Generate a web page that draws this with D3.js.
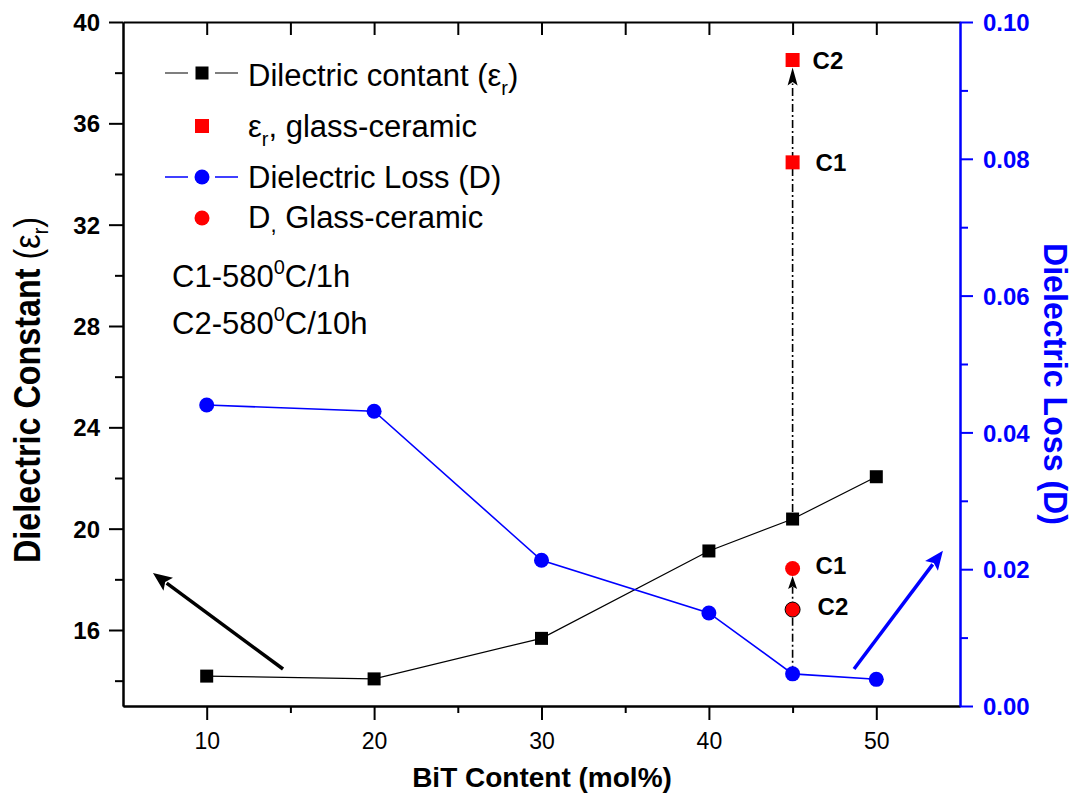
<!DOCTYPE html>
<html><head><meta charset="utf-8">
<script src="https://cdn.jsdelivr.net/npm/d3@7"></script>
<style>
body{margin:0;background:#fff}
svg{display:block}
text{font-family:"Liberation Sans",Arial,Helvetica,sans-serif}
</style>
</head><body>
<svg id="chart" width="1076" height="797"></svg>
<script>
// ---- data ----
const bitContent = [10, 20, 30, 40, 45, 50];
const dielectricConstant = [14.18, 14.07, 15.67, 19.12, 20.38, 22.05];
const dielectricLoss = [0.0440, 0.0431, 0.0213, 0.0136, 0.0047, 0.0039];
const ceramicLabels = ["C1", "C2"];
const ceramicContent = [45, 45];
const ceramicConstant = [34.46, 38.5];
const ceramicLoss = [0.0201, 0.0141];
const xTicks = [10, 20, 30, 40, 50];
const xMinorTicks = [15, 25, 35, 45];
const xTopTicks = [10, 15, 20, 25, 30, 35, 40, 45, 50];
const leftTicks = [16, 20, 24, 28, 32, 36, 40];
const leftMinorTicks = [14, 18, 22, 26, 30, 34, 38];
const rightTicks = [0, 0.02, 0.04, 0.06, 0.08, 0.10];
const rightMinorTicks = [0.01, 0.03, 0.05, 0.07, 0.09];

const BLUE = "#0000ff", RED = "#ff0000";
const svg = d3.select("#chart");
const L = 123, R = 960, T = 22, B = 706;
const x = d3.scaleLinear([5, 55], [L, R]);
const yL = d3.scaleLinear([13, 40], [B, T]);
const yR = d3.scaleLinear([0, 0.1], [B, T]);

function styleAxis(g, color, width) {
  g.selectAll("path.domain").attr("stroke", color).attr("stroke-width", width);
  g.selectAll(".tick line").attr("stroke", color).attr("stroke-width", 2);
}

// bottom axis
const gxB = svg.append("g").attr("transform", `translate(0,${B})`)
  .call(d3.axisBottom(x).tickValues(xTicks).tickSize(14).tickSizeOuter(0).tickFormat(d3.format("d")));
styleAxis(gxB, "#000", 2);
gxB.selectAll("text").attr("y", 43).attr("dy", null).attr("font-size", 23).attr("fill", "#000");
const gxBm = svg.append("g").attr("transform", `translate(0,${B})`)
  .call(d3.axisBottom(x).tickValues(xMinorTicks).tickSize(7).tickSizeOuter(0).tickFormat(""));
styleAxis(gxBm, "#000", 2);

// top axis (inward ticks)
const gxT = svg.append("g").attr("transform", `translate(0,${T})`)
  .call(d3.axisBottom(x).tickValues(xTopTicks).tickSize(13).tickSizeOuter(0).tickFormat(""));
styleAxis(gxT, "#000", 2);

// left axis
const gyL = svg.append("g").attr("transform", `translate(${L},0)`)
  .call(d3.axisLeft(yL).tickValues(leftTicks).tickSize(14).tickSizeOuter(0).tickFormat(d3.format("d")));
styleAxis(gyL, "#000", 2);
gyL.selectAll("text").attr("x", -23).attr("dy", "0.36em").attr("font-size", 24)
  .attr("font-weight", "bold").attr("fill", "#000");
const gyLm = svg.append("g").attr("transform", `translate(${L},0)`)
  .call(d3.axisLeft(yL).tickValues(leftMinorTicks).tickSize(8).tickSizeOuter(0).tickFormat(""));
styleAxis(gyLm, "#000", 2);

// right axis
const gyR = svg.append("g").attr("transform", `translate(${R},0)`)
  .call(d3.axisRight(yR).tickValues(rightTicks).tickSize(13).tickSizeOuter(0).tickFormat(d3.format(".2f")));
styleAxis(gyR, BLUE, 2);
gyR.selectAll("text").attr("x", 23).attr("dy", "0.36em").attr("font-size", 24)
  .attr("font-weight", "bold").attr("fill", BLUE);
const gyRm = svg.append("g").attr("transform", `translate(${R},0)`)
  .call(d3.axisRight(yR).tickValues(rightMinorTicks).tickSize(8).tickSizeOuter(0).tickFormat(""));
styleAxis(gyRm, BLUE, 2);

// axis titles
svg.append("text").attr("x", 542).attr("y", 787).attr("text-anchor", "middle")
  .attr("font-size", 28).attr("font-weight", "bold").text("BiT Content (mol%)");

const lt = svg.append("text").attr("transform", "translate(40,390) rotate(-90)")
  .attr("text-anchor", "middle").attr("font-size", 36).attr("font-weight", "bold")
  .attr("textLength", 346).attr("lengthAdjust", "spacingAndGlyphs");
lt.append("tspan").text("Dielectric Constant ");
lt.append("tspan").attr("font-weight", "normal").text("(ε");
lt.append("tspan").attr("font-weight", "normal").attr("font-size", 22).attr("dy", 8).text("r");
lt.append("tspan").attr("font-weight", "normal").attr("dy", -8).text(")");

svg.append("text").attr("transform", "translate(1044,384) rotate(90)")
  .attr("text-anchor", "middle").attr("font-size", 34).attr("font-weight", "bold")
  .attr("fill", BLUE).attr("textLength", 282).attr("lengthAdjust", "spacingAndGlyphs")
  .text("Dielectric Loss (D)");

// arrows helper
function arrow(g, x1, y1, x2, y2, o) {
  const dx = x2 - x1, dy = y2 - y1, len = Math.hypot(dx, dy);
  const ux = dx / len, uy = dy / len;
  const bx = x2 - ux * o.head, by = y2 - uy * o.head;
  g.append("line").attr("x1", x1).attr("y1", y1).attr("x2", bx + ux * 2).attr("y2", by + uy * 2)
    .attr("stroke", o.color).attr("stroke-width", o.width)
    .attr("stroke-dasharray", o.dash || null);
  const px = -uy, py = ux, hw = o.headW / 2;
  g.append("path")
    .attr("d", `M${x2},${y2}L${bx + px * hw},${by + py * hw}L${x2 - ux * o.head * 0.8},${y2 - uy * o.head * 0.8}L${bx - px * hw},${by - py * hw}Z`)
    .attr("fill", o.color);
}

// series lines
const lineL = d3.line().x((d, i) => x(bitContent[i])).y(d => yL(d));
const lineR = d3.line().x((d, i) => x(bitContent[i])).y(d => yR(d));
svg.append("path").attr("d", lineL(dielectricConstant)).attr("fill", "none")
  .attr("stroke", "#000").attr("stroke-width", 1.2);
svg.append("path").attr("d", lineR(dielectricLoss)).attr("fill", "none")
  .attr("stroke", BLUE).attr("stroke-width", 1.6);

// dash-dot arrows at 45 mol%
const ann = svg.append("g");
const i45 = bitContent.indexOf(45);
arrow(ann, x(45), yL(dielectricConstant[i45]) - 7, x(45), yL(ceramicConstant[1]) + 7.5,
  {color: "#000", width: 1.6, head: 18, headW: 10, dash: "8,3,2,3"});
arrow(ann, x(45), yR(dielectricLoss[i45]), x(45), yR(ceramicLoss[0]) + 7.5,
  {color: "#000", width: 1.6, head: 13, headW: 9, dash: "8,3,2,3"});

// trend arrows
arrow(ann, x(14.56), yL(14.46), x(6.79), yL(18.25), {color: "#000", width: 3.5, head: 19, headW: 16});
arrow(ann, x(48.67), yR(0.0054), x(53.98), yR(0.0227), {color: BLUE, width: 3.5, head: 19, headW: 16});

// markers
svg.append("g").selectAll("rect").data(dielectricConstant).join("rect")
  .attr("x", (d, i) => x(bitContent[i]) - 6.5).attr("y", d => yL(d) - 6.5)
  .attr("width", 13).attr("height", 13).attr("fill", "#000");
svg.append("g").selectAll("circle").data(dielectricLoss).join("circle")
  .attr("cx", (d, i) => x(bitContent[i])).attr("cy", d => yR(d)).attr("r", 7.5).attr("fill", BLUE);
svg.append("g").selectAll("rect").data(ceramicConstant).join("rect")
  .attr("x", (d, i) => x(ceramicContent[i]) - 7).attr("y", d => yL(d) - 7)
  .attr("width", 14).attr("height", 14).attr("fill", RED);
svg.append("g").selectAll("circle").data(ceramicLoss).join("circle")
  .attr("cx", (d, i) => x(ceramicContent[i])).attr("cy", d => yR(d)).attr("r", 7.5).attr("fill", RED)
  .attr("stroke", (d, i) => i === 1 ? "#000" : "none").attr("stroke-width", 1);

// C labels
const lab = svg.append("g").attr("font-size", 24).attr("font-weight", "bold");
ceramicConstant.forEach((d, i) => {
  lab.append("text").attr("x", x(ceramicContent[i]) + (i === 0 ? 23 : 20)).attr("y", yL(d) + 8.5).text(ceramicLabels[i]);
});
ceramicLoss.forEach((d, i) => {
  lab.append("text").attr("x", x(ceramicContent[i]) + (i === 0 ? 23 : 25)).attr("y", yR(d) + 5).text(ceramicLabels[i]);
});

// legend
const lg = svg.append("g").attr("font-size", 31);
const symX = 202, txtX = 248;
// row 1
lg.append("line").attr("x1", 165).attr("x2", 188).attr("y1", 73).attr("y2", 73).attr("stroke", "#555").attr("stroke-width", 1.5);
lg.append("line").attr("x1", 215).attr("x2", 238).attr("y1", 73).attr("y2", 73).attr("stroke", "#555").attr("stroke-width", 1.5);
lg.append("rect").attr("x", symX - 6.5).attr("y", 73 - 6.5).attr("width", 13).attr("height", 13).attr("fill", "#000");
const t1 = lg.append("text").attr("x", txtX).attr("y", 86);
t1.append("tspan").text("Dilectric contant (ε");
t1.append("tspan").attr("font-size", 20).attr("dy", 9).text("r");
t1.append("tspan").attr("dy", -9).text(")");
// row 2
lg.append("rect").attr("x", symX - 7).attr("y", 126 - 7).attr("width", 14).attr("height", 14).attr("fill", RED);
const t2 = lg.append("text").attr("x", txtX).attr("y", 137);
t2.append("tspan").text("ε");
t2.append("tspan").attr("font-size", 20).attr("dy", 9).text("r");
t2.append("tspan").attr("dy", -9).text(", glass-ceramic");
// row 3
lg.append("line").attr("x1", 165).attr("x2", 188).attr("y1", 177).attr("y2", 177).attr("stroke", BLUE).attr("stroke-width", 1.5);
lg.append("line").attr("x1", 215).attr("x2", 238).attr("y1", 177).attr("y2", 177).attr("stroke", BLUE).attr("stroke-width", 1.5);
lg.append("circle").attr("cx", symX).attr("cy", 177).attr("r", 7.5).attr("fill", BLUE);
lg.append("text").attr("x", txtX).attr("y", 188).text("Dielectric Loss (D)");
// row 4
lg.append("circle").attr("cx", symX).attr("cy", 218).attr("r", 7.5).attr("fill", RED);
const t4 = lg.append("text").attr("x", txtX).attr("y", 228);
t4.append("tspan").text("D");
t4.append("tspan").attr("font-size", 22).attr("dy", 4).text(",");
t4.append("tspan").attr("dy", -4).text(" Glass-ceramic");

// condition notes
const notes = [["C1-580", "C/1h", 287], ["C2-580", "C/10h", 334]];
notes.forEach(n => {
  const t = svg.append("text").attr("x", 172).attr("y", n[2]).attr("font-size", 31);
  t.append("tspan").text(n[0]);
  t.append("tspan").attr("font-size", 20).attr("dy", -13).text("0");
  t.append("tspan").attr("dy", 13).text(n[1]);
});
</script>
</body></html>
